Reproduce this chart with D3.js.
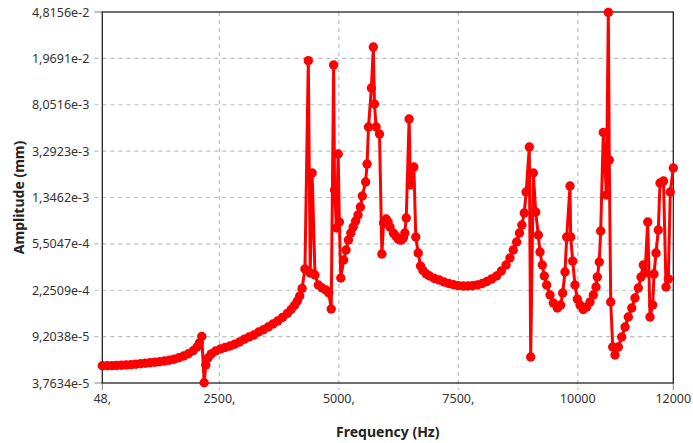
<!DOCTYPE html>
<html lang="en">
<head>
<meta charset="UTF-8">
<title>Frequency response</title>
<script src="https://d3js.org/d3.v7.min.js"></script>
<style type="text/css">
  body { margin: 0; background: #fff; }
  .tick-label {
    font-family: "Segoe UI", "Noto Sans", sans-serif;
    font-size: 12.5px;
    fill: #333;
  }
  .axis-title {
    font-family: "Segoe UI", "Noto Sans", sans-serif;
    font-size: 14px;
    font-weight: bold;
    fill: #222;
  }
</style>
</head>
<body>
<script type="text/javascript">
  //Width and height
  var w = 693;
  var h = 443;
  //plot area (window.top is read-only, so no "top" here)
  var plotL = 102.3, plotR = 673.3, plotT = 12, plotB = 383;

  //Frequency (Hz)
  var freq = [48, 150, 250, 350, 450, 550, 650, 750, 850, 950, 1050, 1150, 1250, 1350, 1450, 1550, 1650, 1750, 1850, 1950,
    2030, 2080, 2130, 2180, 2215, 2260, 2330, 2420, 2520, 2620, 2720, 2820, 2920, 3020, 3120, 3220, 3320, 3420, 3520, 3620,
    3720, 3820, 3920, 4000, 4070, 4130, 4180, 4230, 4290, 4360, 4400, 4440, 4500, 4570, 4650, 4730, 4790, 4840, 4890, 4910,
    4950, 4985, 5010, 5040, 5100, 5150, 5200, 5250, 5300, 5350, 5400, 5450, 5490, 5560, 5590, 5620, 5680, 5721, 5745, 5780,
    5850, 5900, 5935, 5990, 6030, 6070, 6140, 6190, 6240, 6280, 6310, 6350, 6380, 6410, 6470, 6500, 6570, 6610, 6660, 6710,
    6760, 6830, 6900, 7000, 7100, 7200, 7300, 7400, 7500, 7600, 7700, 7800, 7900, 8000, 8100, 8200, 8300, 8400, 8500, 8580,
    8650, 8720, 8780, 8830, 8880, 8920, 8986, 9015, 9070, 9120, 9174, 9210, 9258, 9300, 9350, 9419, 9488, 9572, 9643, 9685,
    9733, 9769, 9838, 9852, 9894, 9942, 9991, 10047, 10116, 10187, 10256, 10326, 10382, 10409, 10451, 10480, 10535, 10600, 10640, 10660,
    10690, 10732, 10780, 10849, 10920, 10990, 11058, 11130, 11198, 11268, 11324, 11372, 11408, 11465, 11513, 11569, 11596, 11638, 11686, 11722,
    11795, 11848, 11896, 11937, 12000];

  //Amplitude (mm)
  var amp = [5.244e-5, 5.25e-5, 5.26e-5, 5.273e-5, 5.30e-5, 5.326e-5, 5.367e-5, 5.409e-5, 5.451e-5, 5.504e-5, 5.557e-5, 5.611e-5, 5.665e-5, 5.753e-5, 5.833e-5, 5.947e-5, 6.12e-5, 6.336e-5, 6.61e-5, 7.004e-5,
    7.54e-5, 8.139e-5, 9.226e-5, 3.78e-5, 5.33e-5, 6.10e-5, 6.59e-5, 6.975e-5, 7.25e-5, 7.46e-5, 7.683e-5, 7.939e-5, 8.297e-5, 8.741e-5, 9.137e-5, 9.497e-5, 1.006e-4, 1.050e-4, 1.108e-4, 1.174e-4,
    1.244e-4, 1.331e-4, 1.437e-4, 1.553e-4, 1.678e-4, 1.830e-4, 2.015e-4, 2.328e-4, 3.39e-4, 1.883e-2, 3.14e-4, 2.16e-3, 3.02e-4, 2.49e-4, 2.35e-4, 2.26e-4, 2.135e-4, 1.568e-4, 1.733e-2, 1.556e-3,
    7.48e-4, 3.115e-3, 8.39e-4, 2.85e-4, 4.03e-4, 4.89e-4, 5.93e-4, 6.79e-4, 7.62e-4, 8.56e-4, 9.61e-4, 1.121e-3, 1.386e-3, 1.816e-3, 2.569e-3, 5.24e-3, 1.112e-2, 2.452e-2, 8.17e-3, 5.24e-3,
    4.58e-3, 4.53e-4, 8.23e-4, 8.89e-4, 8.39e-4, 7.62e-4, 6.79e-4, 6.41e-4, 6.05e-4, 5.93e-4, 5.93e-4, 6.16e-4, 6.79e-4, 9.07e-4, 6.12e-3, 1.713e-3, 2.424e-3, 6.29e-4, 4.62e-4, 3.59e-4,
    3.293e-4, 3.08e-4, 2.96e-4, 2.824e-4, 2.743e-4, 2.639e-4, 2.564e-4, 2.501e-4, 2.462e-4, 2.444e-4, 2.444e-4, 2.453e-4, 2.49e-4, 2.564e-4, 2.665e-4, 2.80e-4, 2.96e-4, 3.263e-4, 3.66e-4, 4.19e-4,
    4.89e-4, 5.71e-4, 6.79e-4, 7.92e-4, 9.98e-4, 1.497e-3, 3.565e-3, 6.21e-5, 2.16e-3, 1.018e-3, 6.53e-4, 4.71e-4, 3.66e-4, 2.96e-4, 2.49e-4, 2.054e-4, 1.760e-4, 1.598e-4, 1.694e-4, 2.135e-4,
    3.20e-4, 6.29e-4, 1.681e-3, 6.29e-4, 3.95e-4, 2.49e-4, 1.901e-4, 1.694e-4, 1.553e-4, 1.630e-4, 1.795e-4, 2.054e-4, 2.397e-4, 2.907e-4, 3.88e-4, 7.06e-4, 4.72e-3, 1.413e-3, 4.78e-2, 2.776e-3,
    1.795e-4, 7.54e-5, 6.46e-5, 7.54e-5, 9.14e-5, 1.108e-4, 1.344e-4, 1.598e-4, 1.938e-4, 2.35e-4, 2.907e-4, 3.66e-4, 3.14e-4, 8.39e-4, 1.344e-4, 1.694e-4, 3.08e-4, 4.62e-4, 7.19e-4, 1.781e-3,
    1.851e-3, 2.397e-4, 2.80e-4, 1.497e-3, 2.378e-3];

  //Tick values
  var yTicks = [3.7634e-5, 9.2038e-5, 2.2509e-4, 5.5047e-4, 1.3462e-3, 3.2923e-3, 8.0516e-3, 1.9691e-2, 4.8156e-2];
  var xTicks = [48, 2500, 5000, 7500, 10000, 12000];
  var xTickLabels = ["48,", "2500,", "5000,", "7500,", "10000", "12000"];

  var dataset = freq.map(function(f, i) { return [f, amp[i]]; });

  //Create SVG element
  var svg = d3.select("body")
    .append("svg")
    .attr("width", w)
    .attr("height", h);

  //Create scale functions
  var xScale = d3.scaleLinear()
    .domain([48, 12000])
    .range([plotL, plotR]);

  var yScale = d3.scaleLog()
    .domain([yTicks[0], yTicks[yTicks.length - 1]])
    .range([plotB, plotT]);

  //dashed grid (horizontal lines also make the outer tick marks)
  svg.selectAll("line.hgrid")
    .data(yTicks.slice(1, -1))
    .enter()
    .append("line")
    .attr("x1", plotL - 8)
    .attr("x2", plotR)
    .attr("y1", function(d) { return yScale(d); })
    .attr("y2", function(d) { return yScale(d); })
    .attr("stroke", "#bdbdbd")
    .attr("stroke-width", 1.2)
    .attr("stroke-dasharray", "4,4");

  svg.selectAll("line.vgrid")
    .data(xTicks.slice(1, -1))
    .enter()
    .append("line")
    .attr("x1", function(d) { return xScale(d); })
    .attr("x2", function(d) { return xScale(d); })
    .attr("y1", plotT)
    .attr("y2", plotB + 7)
    .attr("stroke", "#bdbdbd")
    .attr("stroke-width", 1.2)
    .attr("stroke-dasharray", "4,4");

  //solid ticks at the ends
  [yTicks[0], yTicks[yTicks.length - 1]].forEach(function(d) {
    svg.append("line")
      .attr("x1", plotL - 8).attr("x2", plotL)
      .attr("y1", yScale(d)).attr("y2", yScale(d))
      .attr("stroke", "#999").attr("stroke-width", 1.2);
  });
  [xTicks[0], xTicks[xTicks.length - 1]].forEach(function(d) {
    svg.append("line")
      .attr("x1", xScale(d)).attr("x2", xScale(d))
      .attr("y1", plotB).attr("y2", plotB + 7)
      .attr("stroke", "#999").attr("stroke-width", 1.2);
  });

  //frame
  svg.append("rect")
    .attr("x", plotL)
    .attr("y", plotT)
    .attr("width", plotR - plotL)
    .attr("height", plotB - plotT)
    .attr("fill", "none")
    .attr("stroke", "#222")
    .attr("stroke-width", 1.3);

  //tick labels
  svg.selectAll("text.ylab")
    .data(yTicks)
    .enter()
    .append("text")
    .attr("class", "tick-label")
    .attr("text-anchor", "end")
    .attr("x", plotL - 13)
    .attr("y", function(d) { return yScale(d) + 4.5; })
    .text(function(d) { return d.toExponential(4).replace(".", ","); });

  svg.selectAll("text.xlab")
    .data(xTicks)
    .enter()
    .append("text")
    .attr("class", "tick-label")
    .attr("text-anchor", "middle")
    .attr("x", function(d) { return xScale(d); })
    .attr("y", plotB + 20)
    .text(function(d, i) { return xTickLabels[i]; });

  //the curve
  var line = d3.line()
    .x(function(d) { return xScale(d[0]); })
    .y(function(d) { return yScale(d[1]); });

  svg.append("path")
    .datum(dataset)
    .attr("d", line)
    .attr("fill", "none")
    .attr("stroke", "#ff0000")
    .attr("stroke-width", 3)
    .attr("stroke-linejoin", "round");

  svg.selectAll("circle")
    .data(dataset)
    .enter()
    .append("circle")
    .attr("fill", "#ff0000")
    .attr("cx", function(d) { return xScale(d[0]); })
    .attr("cy", function(d) { return yScale(d[1]); })
    .attr("r", 4.7);

  //axis titles
  svg.append("text")
    .attr("class", "axis-title")
    .attr("text-anchor", "middle")
    .attr("x", (plotL + plotR) / 2)
    .attr("y", 437)
    .text("Frequency (Hz)");

  svg.append("text")
    .attr("class", "axis-title")
    .attr("text-anchor", "middle")
    .attr("transform", "translate(24," + ((plotT + plotB) / 2) + ") rotate(-90)")
    .text("Amplitude (mm)");
</script>
</body>
</html>
